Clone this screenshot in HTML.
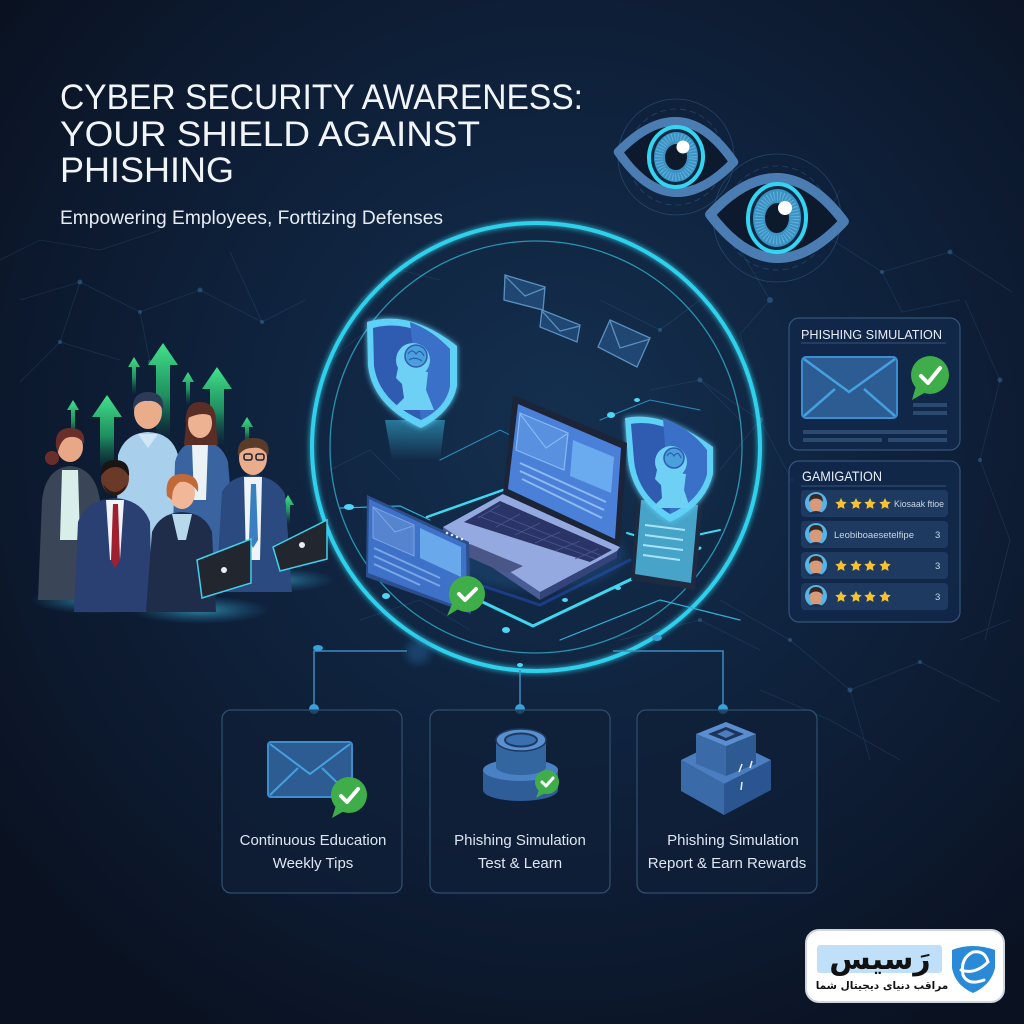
<!DOCTYPE html>
<html><head><meta charset="utf-8">
<style>
html,body{margin:0;padding:0;background:#0c1629;}
svg{display:block;}
</style></head><body>
<svg xmlns="http://www.w3.org/2000/svg" width="1024" height="1024" viewBox="0 0 1024 1024">
<defs>
<radialGradient id="bg" cx="560" cy="430" r="720" gradientUnits="userSpaceOnUse">
<stop offset="0" stop-color="#14304f"/>
<stop offset="0.45" stop-color="#0f223d"/>
<stop offset="1" stop-color="#0a1120"/>
</radialGradient>
<linearGradient id="ga" x1="0" y1="0" x2="0" y2="1">
<stop offset="0" stop-color="#43e38c"/>
<stop offset="0.55" stop-color="#22a366" stop-opacity="0.85"/>
<stop offset="1" stop-color="#126a4a" stop-opacity="0"/>
</linearGradient>
<linearGradient id="col" x1="0" y1="0" x2="0" y2="1">
<stop offset="0" stop-color="#3ab8e0" stop-opacity="0.55"/>
<stop offset="1" stop-color="#3ab8e0" stop-opacity="0"/>
</linearGradient>
<radialGradient id="pglow" cx="0.5" cy="0.5" r="0.5">
<stop offset="0" stop-color="#4fd6f5" stop-opacity="0.8"/>
<stop offset="1" stop-color="#2a9ad0" stop-opacity="0"/>
</radialGradient>
<filter id="glow" x="-20%" y="-20%" width="140%" height="140%">
<feGaussianBlur stdDeviation="3" result="b"/>
<feMerge><feMergeNode in="b"/><feMergeNode in="SourceGraphic"/></feMerge>
</filter>
<filter id="blur4" x="-50%" y="-50%" width="200%" height="200%"><feGaussianBlur stdDeviation="4"/></filter>
<g id="star"><polygon points="0,-6 1.76,-2.43 5.7,-1.85 2.85,0.93 3.53,4.85 0,3 -3.53,4.85 -2.85,0.93 -5.7,-1.85 -1.76,-2.43" fill="#f6c232"/></g>
<g id="avatar">
<circle r="11" fill="#58b4e6"/>
<ellipse cx="0" cy="2" rx="6" ry="7" fill="#d99a7a"/>
<path d="M-7,-1 Q-7,-9 0,-9 Q7,-9 7,-1 L5,-3 Q0,-6 -5,-3 Z" fill="#3a2820"/>
<path d="M-8,11 Q0,5 8,11 Z" fill="#1e3050"/>
</g>
</defs>

<rect width="1024" height="1024" fill="url(#bg)"/>

<!-- network background -->
<g stroke="#3d6e9e" stroke-width="0.8" opacity="0.25" fill="none">
<path d="M20,300 L80,282 L140,312 L200,290 L262,322 L305,300"/>
<path d="M60,342 L80,282 M140,312 L150,362 M230,252 L262,322 M20,382 L60,342 L120,360"/>
<path d="M0,260 L40,240 L100,250 L160,230"/>
<path d="M740,250 L820,232 L882,272 L950,252 L1012,292"/>
<path d="M740,250 L770,300 L742,332 M882,272 L902,312 L960,300 M820,232 L840,190"/>
<path d="M700,380 L760,420 L792,480 M740,332 L760,420 L720,470"/>
<path d="M720,600 L790,640 L850,690 L920,662 L1000,702"/>
<path d="M760,690 L830,720 L900,760 M960,640 L1010,620 M850,690 L870,760"/>
<path d="M965,300 L1000,380 L980,460 L1010,540 L985,640"/>
<path d="M360,300 L400,270 L440,280 M330,360 L380,320"/>
<path d="M600,300 L660,330 L700,300 M650,390 L700,380 L740,420"/>
<path d="M330,470 L370,450 L400,480 M360,620 L420,600 L470,630"/>
<path d="M620,640 L700,620 L760,650"/>
</g>
<g fill="#3d7ab0" opacity="0.45">
<circle cx="80" cy="282" r="2.5"/><circle cx="140" cy="312" r="2"/><circle cx="200" cy="290" r="2.5"/>
<circle cx="262" cy="322" r="2"/><circle cx="60" cy="342" r="2"/><circle cx="150" cy="362" r="2"/>
<circle cx="820" cy="232" r="2.5"/><circle cx="882" cy="272" r="2"/><circle cx="950" cy="252" r="2.5"/>
<circle cx="770" cy="300" r="3"/><circle cx="760" cy="420" r="3"/><circle cx="792" cy="480" r="2"/>
<circle cx="790" cy="640" r="2"/><circle cx="850" cy="690" r="2.5"/><circle cx="920" cy="662" r="2"/>
<circle cx="1000" cy="380" r="2.5"/><circle cx="980" cy="460" r="2"/><circle cx="700" cy="380" r="2.5"/>
<circle cx="400" cy="270" r="2"/><circle cx="660" cy="330" r="2"/><circle cx="700" cy="620" r="2"/>
</g>

<!-- title -->
<g font-family="Liberation Sans, Arial, sans-serif" fill="#f2f5f8">
<text x="60" y="109" font-size="35" textLength="523" lengthAdjust="spacingAndGlyphs">CYBER SECURITY AWARENESS:</text>
<text x="60" y="146" font-size="35" textLength="420" lengthAdjust="spacingAndGlyphs">YOUR SHIELD AGAINST</text>
<text x="60" y="182" font-size="35" textLength="174" lengthAdjust="spacingAndGlyphs">PHISHING</text>
<text x="60" y="224" font-size="19" fill="#e6ecf2" textLength="383" lengthAdjust="spacingAndGlyphs">Empowering Employees, Forttizing Defenses</text>
</g>

<!-- eyes -->
<g fill="none" stroke="#3d6e9e" stroke-width="0.8" opacity="0.45">
<circle cx="676" cy="157" r="48" stroke-dasharray="6 4"/>
<circle cx="676" cy="157" r="58"/>
<circle cx="777" cy="218" r="52" stroke-dasharray="6 4"/>
<circle cx="777" cy="218" r="64"/>
</g>
<g transform="translate(676,157) rotate(5)">
<path d="M-58,0 Q0,-71 58,0 Q0,71 -58,0 Z" fill="#0d1a2e" stroke="#4b7db3" stroke-width="9" stroke-linejoin="round"/>
<ellipse rx="27" ry="30" fill="#0d2a44" stroke="#35d5f2" stroke-width="4"/>
<ellipse rx="22" ry="25" fill="#3b92c4"/>
<ellipse rx="17" ry="20" fill="none" stroke="#86d2f0" stroke-width="8" stroke-dasharray="1 2" opacity="0.5"/>
<ellipse rx="11" ry="13" fill="#0c1a2c"/>
</g>
<circle cx="683" cy="147" r="6.5" fill="#ffffff"/>
<g transform="translate(777,218) rotate(3)">
<path d="M-67,0 Q0,-80 67,0 Q0,80 -67,0 Z" fill="#0d1a2e" stroke="#4b7db3" stroke-width="10" stroke-linejoin="round"/>
<ellipse rx="29" ry="34" fill="#0d2a44" stroke="#35d5f2" stroke-width="4"/>
<ellipse rx="24" ry="29" fill="#3b92c4"/>
<ellipse rx="18" ry="22" fill="none" stroke="#86d2f0" stroke-width="9" stroke-dasharray="1 2" opacity="0.5"/>
<ellipse rx="12" ry="15" fill="#0c1a2c"/>
</g>
<circle cx="785" cy="208" r="7" fill="#ffffff"/>

<!-- main circle -->
<circle cx="536" cy="447" r="224" fill="none" stroke="#2fd0ec" stroke-width="4" filter="url(#glow)"/>
<circle cx="536" cy="447" r="206" fill="none" stroke="#2ab0d0" stroke-width="1.3" opacity="0.8"/>

<!-- connectors -->
<g stroke="#3a8cc0" stroke-width="1.5" fill="none">
<path d="M407,651 L314,651 L314,709"/>
<path d="M520,670 L520,709"/>
<path d="M613,651 L723,651 L723,709"/>
</g>
<g fill="#3aa0d8">
<circle cx="314" cy="709" r="5"/><circle cx="520" cy="709" r="5"/><circle cx="723" cy="709" r="5"/>
<ellipse cx="318" cy="648" rx="5" ry="3"/><ellipse cx="657" cy="638" rx="5" ry="3"/>
</g>
<circle cx="418" cy="652" r="12" fill="#2a7ab8" opacity="0.35" filter="url(#blur4)"/>

<!-- circuit lines inside circle -->
<g fill="none" stroke-linecap="round">
<path d="M427,517 L503,490" stroke="#3fd8f0" stroke-width="2.5"/>
<path d="M470,596 L533,626 L640,575 L700,548" stroke="#3fd8f0" stroke-width="3"/>
<path d="M480,585 L540,605 L630,560" stroke="#1c3c86" stroke-width="3"/>
<path d="M627,533 L660,543 L720,530" stroke="#3fd8f0" stroke-width="2"/>
<path d="M340,508 L400,506 L430,520" stroke="#2fb0d8" stroke-width="1.2"/>
<path d="M560,640 L660,600 L740,620" stroke="#2fb0d8" stroke-width="1.2"/>
<path d="M600,420 L650,400 L700,410" stroke="#2a8ec0" stroke-width="1"/>
<path d="M440,460 L500,430 L520,440" stroke="#2a8ec0" stroke-width="1"/>
</g>
<g fill="#4fd6f5">
<ellipse cx="349" cy="507" rx="5" ry="3"/><ellipse cx="386" cy="596" rx="4" ry="3"/>
<ellipse cx="506" cy="630" rx="4" ry="3"/><ellipse cx="565" cy="600" rx="3" ry="2"/>
<ellipse cx="611" cy="415" rx="4" ry="3"/><ellipse cx="618" cy="588" rx="3" ry="2"/>
<ellipse cx="655" cy="545" rx="3" ry="2"/><ellipse cx="520" cy="665" rx="3" ry="2"/>
<ellipse cx="637" cy="400" rx="3" ry="2"/>
</g>

<!-- floating envelopes -->
<g fill="#2a5a90" fill-opacity="0.6" stroke="#5a90c0" stroke-width="1.3">
<path d="M505,275 L545,287 L543,310 L504,300 Z"/>
<path d="M505,276 L525,296 L545,288" fill="none"/>
<path d="M542,310 L580,325 L577,342 L540,327 Z"/>
<path d="M542,311 L560,331 L580,326" fill="none"/>
<path d="M610,320 L650,338 L637,367 L598,347 Z"/>
<path d="M610,321 L620,348 L650,339" fill="none"/>
</g>

<!-- left shield -->
<path d="M385,420 L445,420 L440,460 L392,460 Z" fill="url(#col)"/>
<g filter="url(#glow)">
<path d="M367,322 Q410,309 457,346 L457,386 Q452,412 421,428 Q373,406 368,366 Z" fill="#5fd0f6"/>
</g>
<path d="M373,328 Q410,318 450,349 L450,386 Q446,408 421,420 Q379,401 374,366 Z" fill="#2f5cb0"/>
<path d="M410,322 Q432,330 450,349 L450,386 Q446,408 421,420 Z" fill="#3a70c8"/>
<circle cx="413" cy="360" r="17" fill="#6fd0f5"/>
<path d="M398,368 L396,378 L402,384 L404,398 L392,410 L434,410 L426,390 L428,372 Z" fill="#6fd0f5"/>
<circle cx="416" cy="356" r="11" fill="#4aa0dc" stroke="#2f5cb0" stroke-width="1.5"/>
<path d="M408,354 Q412,348 416,354 Q420,348 424,356 M409,360 Q415,356 422,361" stroke="#2f5cb0" stroke-width="1.2" fill="none"/>

<!-- phone (behind right shield) -->
<path d="M637,495 L703,500 L695,590 L631,580 Z" fill="#1e2a40"/>
<path d="M641,500 L698,505 L691,583 L635,574 Z" fill="#4fb8e0" opacity="0.85"/>
<g stroke="#a8e4f8" stroke-width="2">
<path d="M645,525 L685,530 M645,535 L683,540 M643,545 L683,550 M643,555 L680,560"/>
</g>

<!-- right shield -->
<g filter="url(#glow)">
<path d="M625,418 Q663,410 713,447 L713,474 Q706,505 670,522 Q632,498 628,460 Z" fill="#5fd0f6"/>
</g>
<path d="M631,424 Q663,418 707,450 L707,474 Q700,500 670,514 Q637,494 634,460 Z" fill="#2f5cb0"/>
<path d="M663,418 Q690,428 707,450 L707,474 Q700,500 670,514 Z" fill="#3a70c8"/>
<circle cx="671" cy="462" r="16" fill="#6fd0f5"/>
<path d="M657,470 L655,479 L661,485 L662,498 L652,508 L690,508 L684,490 L686,474 Z" fill="#6fd0f5"/>
<circle cx="674" cy="458" r="10" fill="#4aa0dc" stroke="#2f5cb0" stroke-width="1.5"/>
<path d="M667,456 Q670,450 674,456 Q678,450 681,458" stroke="#2f5cb0" stroke-width="1.2" fill="none"/>

<!-- laptop -->
<ellipse cx="535" cy="555" rx="90" ry="35" fill="#2a6ab0" opacity="0.25" filter="url(#blur4)"/>
<path d="M443,527 L540,592 L540,600 L443,534 Z" fill="#4a5c96"/>
<path d="M540,592 L617,551 L617,558 L540,600 Z" fill="#34437a"/>
<path d="M503,494 L620,547 L617,551 L540,592 L443,527 Z" fill="#93a9e0"/>
<path d="M500,501 L612,550 L590,562 L464,522 Z" fill="#2a3466"/>
<g stroke="#4a5890" stroke-width="0.8">
<path d="M490,511 L602,556 M478,516 L596,559"/>
<path d="M500,505 L478,518 M520,514 L496,527 M540,523 L515,535 M560,532 L535,543 M580,541 L555,551 M598,549 L575,559"/>
</g>
<path d="M470,544 L523,566 L507,574 L455,551 Z" fill="#4a5688"/>
<path d="M513,395 L627,443 L620,547 L503,494 Z" fill="#1c2438"/>
<path d="M518,404 L621,448 L615,539 L508,489 Z" fill="#4a80d8"/>
<path d="M520,413 L568,433 L564,470 L516,450 Z" fill="#5a90e0" stroke="#86baf2" stroke-width="1.2"/>
<path d="M520,414 L546,448 L567,434" stroke="#86baf2" stroke-width="1.2" fill="none"/>
<path d="M573,440 L614,457 L611,493 L570,476 Z" fill="#6aaaee"/>
<g stroke="#8ebaf2" stroke-width="2">
<path d="M520,463 L606,502 M520,471 L604,510 M522,479 L602,518"/>
</g>

<!-- tablet -->
<path d="M367,495 L469,542 L471,614 L366,577 Z" fill="#2c4e8c"/>
<path d="M369,499 L466,544 L467,610 L368,573 Z" fill="#3e72c8"/>
<path d="M373,507 L414,525 L414,556 L373,538 Z" fill="#5684cf" stroke="#7aa6e6" stroke-width="1"/>
<path d="M374,508 L395,532 L413,526" stroke="#7aa6e6" stroke-width="1" fill="none"/>
<path d="M420,528 L461,547 L461,577 L420,558 Z" fill="#6aa8ec"/>
<g stroke="#7aa6e6" stroke-width="2"><path d="M374,548 L440,578 M374,556 L440,586 M374,564 L420,585"/></g>
<g fill="#dde8f8"><circle cx="447" cy="533" r="1.3"/><circle cx="452" cy="535" r="1.3"/><circle cx="457" cy="537" r="1.3"/><circle cx="462" cy="539" r="1.3"/></g>
<circle cx="467" cy="594" r="18" fill="#3fae4a"/>
<path d="M452,604 L447,616 L460,608 Z" fill="#3fae4a"/>
<path d="M459,594 L465,600 L476,589" stroke="#ffffff" stroke-width="4" fill="none" stroke-linecap="round" stroke-linejoin="round"/>

<!-- people group -->
<ellipse cx="95" cy="600" rx="65" ry="14" fill="url(#pglow)" opacity="0.7"/>
<ellipse cx="200" cy="610" rx="70" ry="14" fill="url(#pglow)" opacity="0.7"/>
<ellipse cx="280" cy="580" rx="55" ry="12" fill="url(#pglow)" opacity="0.6"/>
<g fill="url(#ga)">
<path d="M73,400 L79,410 L75,410 L75,440 L71,440 L71,410 L67,410 Z"/>
<path d="M107,395 L122,417 L114,417 L114,470 L100,470 L100,417 L92,417 Z"/>
<path d="M134,357 L140,367 L136,367 L136,395 L132,395 L132,367 L128,367 Z"/>
<path d="M163,343 L178,365 L170,365 L170,440 L156,440 L156,365 L148,365 Z"/>
<path d="M188,372 L194,382 L190,382 L190,405 L186,405 L186,382 L182,382 Z"/>
<path d="M217,367 L232,389 L224,389 L224,445 L210,445 L210,389 L202,389 Z"/>
<path d="M247,417 L253,427 L249,427 L249,445 L245,445 L245,427 L241,427 Z"/>
<path d="M288,495 L294,505 L290,505 L290,525 L286,525 L286,505 L282,505 Z"/>
</g>
<!-- P2 back center -->
<path d="M116,560 L118,455 Q125,433 148,432 Q172,433 178,455 L178,560 Z" fill="#a8d0ec"/>
<path d="M138,434 L148,448 L158,434 Z" fill="#cfe6f6"/>
<ellipse cx="148" cy="412" rx="14" ry="17" fill="#e9ad8c"/>
<path d="M133,410 Q132,392 148,392 Q165,392 163,410 Q158,400 148,401 Q138,400 133,410 Z" fill="#2c3a58"/>
<!-- P3 back right -->
<path d="M172,560 L175,462 Q180,442 200,440 Q222,442 228,462 L236,560 Z" fill="#3a64a0"/>
<path d="M192,444 L208,444 L206,500 L194,500 Z" fill="#eaf2f6"/>
<path d="M186,425 Q184,402 200,402 Q217,402 216,425 L218,445 L184,445 Z" fill="#5a2e26"/>
<ellipse cx="200" cy="423" rx="12" ry="15" fill="#ecb292"/>
<path d="M188,418 Q190,404 201,404 Q212,404 214,418 Q205,410 188,418 Z" fill="#5a2e26"/>
<!-- P1 back left -->
<path d="M38,600 L42,500 Q46,468 70,466 Q95,468 100,500 L102,600 Z" fill="#3a4658"/>
<path d="M62,470 L78,470 L80,540 L60,540 Z" fill="#d8eee8"/>
<ellipse cx="70" cy="447" rx="13" ry="15" fill="#e8a888"/>
<path d="M56,447 Q54,428 70,428 Q86,428 84,444 Q78,434 66,438 Q60,442 58,452 Z" fill="#6a2e2a"/>
<circle cx="52" cy="458" r="7" fill="#6a2e2a"/>
<!-- P6 right with glasses -->
<path d="M216,592 L222,492 Q230,476 253,475 Q276,477 285,494 L292,592 Z" fill="#2a4a80"/>
<path d="M244,477 L262,477 L260,560 L246,560 Z" fill="#eef4f8"/>
<path d="M251,484 L256,484 L258,540 L253,548 L249,540 Z" fill="#3a80c0"/>
<ellipse cx="253" cy="458" rx="14" ry="17" fill="#eaad8c"/>
<path d="M238,456 Q236,438 253,438 Q272,438 268,456 Q262,446 252,448 Q243,448 238,456 Z" fill="#5a3a28"/>
<g fill="none" stroke="#1a2030" stroke-width="1.5"><rect x="244" y="454" width="8" height="6" rx="2"/><rect x="256" y="454" width="8" height="6" rx="2"/></g>
<!-- P4 front left -->
<path d="M74,612 L78,522 Q86,500 115,498 Q142,500 150,522 L152,612 Z" fill="#2a3f72"/>
<path d="M106,500 L124,500 L120,560 L110,560 Z" fill="#f0f4f8"/>
<path d="M113,504 L118,504 L120,560 L115,568 L111,560 Z" fill="#a02030"/>
<ellipse cx="115" cy="478" rx="14" ry="17" fill="#6a3a28"/>
<path d="M101,476 Q100,460 115,460 Q130,460 129,476 Q122,466 115,467 Q107,467 101,476 Z" fill="#1a1412"/>
<path d="M103,484 Q115,500 127,484 Q124,494 115,496 Q106,494 103,484 Z" fill="#2a1a14"/>
<!-- P5 front center -->
<path d="M146,612 L152,532 Q160,513 182,512 Q205,513 212,532 L216,612 Z" fill="#1f2c4a"/>
<path d="M172,514 L192,514 L186,540 L178,540 Z" fill="#b8d8ec"/>
<ellipse cx="182" cy="493" rx="13" ry="16" fill="#f0b898"/>
<path d="M167,496 Q164,474 182,474 Q200,474 198,492 Q190,480 180,482 Q172,486 172,500 Z" fill="#c06a3a"/>
<!-- laptops -->
<path d="M197,560 L251,539 L251,583 L202,598 Z" fill="#22262e" stroke="#3fd0ec" stroke-width="1.5"/>
<circle cx="224" cy="570" r="3" fill="#e8eef4"/>
<path d="M273,547 L327,520 L327,559 L280,571 Z" fill="#22262e" stroke="#3fd0ec" stroke-width="1.5"/>
<circle cx="302" cy="545" r="3" fill="#e8eef4"/>

<!-- right panels -->
<rect x="789" y="318" width="171" height="132" rx="10" fill="#11284a" fill-opacity="0.9" stroke="#35557a" stroke-width="1.2"/>
<text x="801" y="339" font-family="Liberation Sans, Arial, sans-serif" font-size="13" fill="#e8eef5" textLength="141" lengthAdjust="spacingAndGlyphs">PHISHING SIMULATION</text>
<line x1="801" y1="343" x2="946" y2="343" stroke="#35557a" stroke-width="1"/>
<rect x="802" y="357" width="95" height="61" rx="4" fill="#2d5c92" stroke="#3b8ed0" stroke-width="2"/>
<path d="M804,359 L849,392 L895,359 M804,416 L835,389 M895,416 L864,389" stroke="#45a0e0" stroke-width="2.5" fill="none"/>
<circle cx="930" cy="375" r="19" fill="#3fae4a"/>
<path d="M916,386 L912,400 L926,392 Z" fill="#3fae4a"/>
<path d="M921,376 L928,383 L940,368" stroke="#ffffff" stroke-width="4" fill="none" stroke-linecap="round" stroke-linejoin="round"/>
<g fill="#2a4a70">
<rect x="913" y="403" width="34" height="4"/><rect x="913" y="411" width="34" height="4"/>
<rect x="803" y="430" width="144" height="4"/><rect x="803" y="438" width="79" height="4"/><rect x="888" y="438" width="59" height="4"/>
</g>

<rect x="789" y="461" width="171" height="161" rx="10" fill="#11284a" fill-opacity="0.9" stroke="#35557a" stroke-width="1.2"/>
<text x="802" y="481" font-family="Liberation Sans, Arial, sans-serif" font-size="14" fill="#e8eef5" textLength="80" lengthAdjust="spacingAndGlyphs">GAMIGATION</text>
<line x1="801" y1="486" x2="946" y2="486" stroke="#35557a" stroke-width="1"/>
<g fill="#1e3a60">
<rect x="801" y="490" width="147" height="27" rx="4"/>
<rect x="801" y="521" width="147" height="27" rx="4"/>
<rect x="801" y="552" width="147" height="27" rx="4"/>
<rect x="801" y="583" width="147" height="27" rx="4"/>
</g>
<use href="#avatar" x="816" y="503"/>
<use href="#avatar" x="816" y="534"/>
<use href="#avatar" x="816" y="565"/>
<use href="#avatar" x="816" y="596"/>
<use href="#star" x="841" y="504"/><use href="#star" x="856" y="504"/><use href="#star" x="870" y="504"/><use href="#star" x="885" y="504"/>
<use href="#star" x="841" y="566"/><use href="#star" x="856" y="566"/><use href="#star" x="870" y="566"/><use href="#star" x="885" y="566"/>
<use href="#star" x="841" y="597"/><use href="#star" x="856" y="597"/><use href="#star" x="870" y="597"/><use href="#star" x="885" y="597"/>
<g font-family="Liberation Sans, Arial, sans-serif" font-size="9.5" fill="#c8d6e6">
<text x="894" y="507" textLength="50" lengthAdjust="spacingAndGlyphs">Kiosaak ftioe</text>
<text x="834" y="538" textLength="80" lengthAdjust="spacingAndGlyphs">Leobiboaesetelfipe</text>
<text x="935" y="538">3</text>
<text x="935" y="569">3</text>
<text x="935" y="600">3</text>
</g>

<!-- bottom boxes -->
<g fill="#0f1f38" fill-opacity="0.7" stroke="#2d4d70" stroke-width="1.3">
<rect x="222" y="710" width="180" height="183" rx="9"/>
<rect x="430" y="710" width="180" height="183" rx="9"/>
<rect x="637" y="710" width="180" height="183" rx="9"/>
</g>
<!-- box1 icon -->
<rect x="268" y="742" width="84" height="55" rx="3" fill="#2d5c92" stroke="#3b8ed0" stroke-width="2"/>
<path d="M270,744 L310,774 L350,744 M270,795 L298,768 M350,795 L322,768" stroke="#45a0e0" stroke-width="2" fill="none"/>
<circle cx="349" cy="795" r="18" fill="#3fae4a"/>
<path d="M336,805 L332,818 L346,810 Z" fill="#3fae4a"/>
<path d="M341,796 L347,802 L358,789" stroke="#ffffff" stroke-width="4" fill="none" stroke-linecap="round" stroke-linejoin="round"/>
<!-- box2 icon -->
<rect x="483" y="770" width="75" height="20" fill="#2e5d98"/>
<ellipse cx="520.5" cy="790" rx="37.5" ry="11" fill="#2e5d98"/>
<ellipse cx="520.5" cy="770" rx="37.5" ry="11" fill="#4a80c4"/>
<rect x="496" y="740" width="50" height="27" fill="#33669f"/>
<ellipse cx="521" cy="767" rx="25" ry="8" fill="#33669f"/>
<ellipse cx="521" cy="740" rx="25" ry="11" fill="#5a90d0" stroke="#1e3a60" stroke-width="1.5"/>
<ellipse cx="521" cy="740" rx="16" ry="6.5" fill="#3a70b0" stroke="#1e3a60" stroke-width="2"/>
<circle cx="547" cy="782" r="12" fill="#3fae4a"/>
<path d="M539,790 L536,798 L545,793 Z" fill="#3fae4a"/>
<path d="M542,782 L546,786 L553,778" stroke="#ffffff" stroke-width="3" fill="none" stroke-linecap="round" stroke-linejoin="round"/>
<!-- box3 icon -->
<path d="M681,760 L724,784 L724,815 L681,791 Z" fill="#3a6aa8"/>
<path d="M724,784 L771,760 L771,790 L724,815 Z" fill="#2a5590"/>
<path d="M681,760 L726,738 L771,760 L724,784 Z" fill="#4a7ec0"/>
<path d="M696,734 L726,746 L726,776 L696,764 Z" fill="#3a6aa8"/>
<path d="M726,746 L756,734 L756,764 L726,776 Z" fill="#2e5a94"/>
<path d="M726,722 L756,734 L726,746 L696,734 Z" fill="#5a8ed0"/>
<path d="M726,727 L744,734 L726,741 L708,734 Z" fill="#1e3458"/>
<path d="M726,730 L735,734 L726,738 L717,734 Z" fill="#4a7ec0"/>
<g stroke="#e8f0f8" stroke-width="1.5"><path d="M739,772 L742,764 M750,768 L752,761 M741,790 L742,782"/></g>

<g font-family="Liberation Sans, Arial, sans-serif" font-size="15" fill="#dde6f0" text-anchor="middle">
<text x="313" y="845">Continuous Education</text>
<text x="313" y="868">Weekly Tips</text>
<text x="520" y="845">Phishing Simulation</text>
<text x="520" y="868">Test &amp; Learn</text>
<text x="733" y="845">Phishing Simulation</text>
<text x="727" y="868">Report &amp; Earn Rewards</text>
</g>

<!-- logo -->
<rect x="806" y="930" width="198" height="72" rx="13" fill="#ffffff" stroke="#d0d6de" stroke-width="2"/>
<rect x="817" y="945" width="125" height="28" rx="3" fill="#bfe0f8"/>
<text x="880" y="969" font-family="DejaVu Sans, sans-serif" font-size="30" font-weight="bold" fill="#111111" text-anchor="middle">رَسیس</text>
<text x="882" y="989" font-family="DejaVu Sans, sans-serif" font-size="10.5" font-weight="bold" fill="#111111" text-anchor="middle">مراقب دنیای دیجیتال شما</text>
<path d="M952,950 Q972,942 995,950 L995,968 Q991,985 973,993 Q955,985 952,968 Z" fill="#2a8ad8"/>
<path d="M961,970 Q975,975 988,962 Q985,950 973,952 Q960,958 963,975 Q968,986 984,980" stroke="#ffffff" stroke-width="3" fill="none" stroke-linecap="round"/>
</svg>
</body></html>
